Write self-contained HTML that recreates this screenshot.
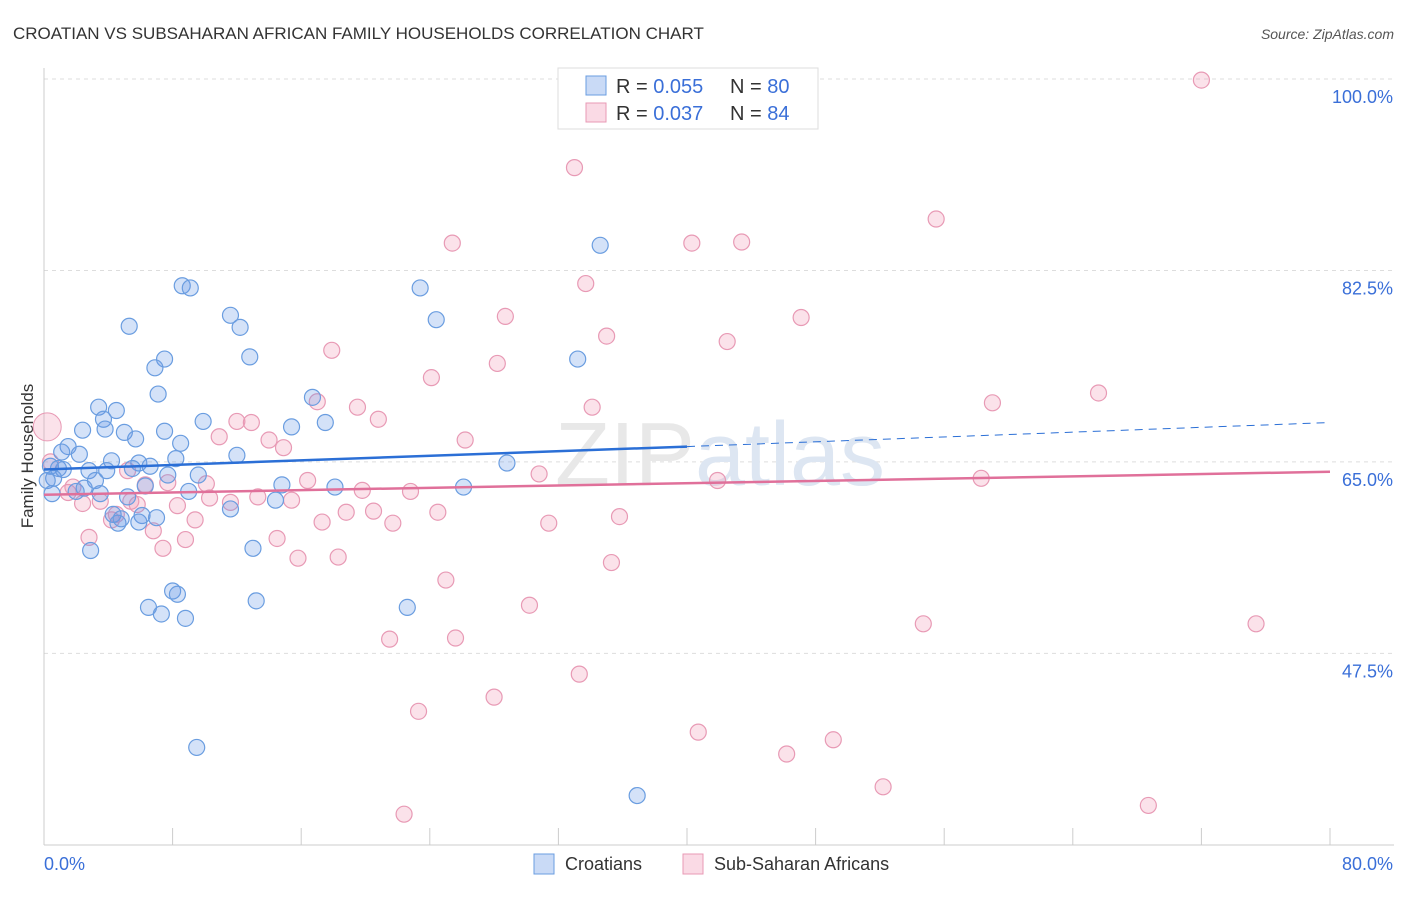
<!DOCTYPE html>
<html><head><meta charset="utf-8"><style>
body{margin:0;background:#fff;font-family:"Liberation Sans",sans-serif;}
svg text{font-family:"Liberation Sans",sans-serif;}
</style></head><body>
<svg id="chart" width="1406" height="892" xmlns="http://www.w3.org/2000/svg">
<text x="13" y="39" font-size="17" fill="#333">CROATIAN VS SUBSAHARAN AFRICAN FAMILY HOUSEHOLDS CORRELATION CHART</text>
<text x="1394" y="39" font-size="14" fill="#555" font-style="italic" text-anchor="end">Source: ZipAtlas.com</text>
<text x="33" y="456" font-size="17" fill="#333" text-anchor="middle" transform="rotate(-90 33 456)">Family Households</text>
<g id="grid"></g>
<g id="axes"></g>
<text x="720" y="485" font-size="90" fill="#e8e8e8" text-anchor="middle" font-family="Liberation Serif">ZIP<tspan fill="#dde6f2" font-family="Liberation Sans">atlas</tspan></text>
<g id="pts"></g>
<g id="trends"></g>
<g>
<rect x="558" y="68" width="260" height="61" fill="#fff" stroke="#ddd"/>
<rect x="586" y="76" width="20" height="19" fill="rgba(100,150,230,0.35)" stroke="#6a9de0"/>
<rect x="586" y="103" width="20" height="19" fill="rgba(240,150,180,0.35)" stroke="#e89ab5"/>
<text x="616" y="93" font-size="20" fill="#333">R = <tspan fill="#3a6fd8">0.055</tspan><tspan x="730">N = </tspan><tspan fill="#3a6fd8">80</tspan></text>
<text x="616" y="120" font-size="20" fill="#333">R = <tspan fill="#3a6fd8">0.037</tspan><tspan x="730">N = </tspan><tspan fill="#3a6fd8">84</tspan></text>
</g>
<g>
<rect x="534" y="854" width="20" height="20" fill="rgba(100,150,230,0.35)" stroke="#6a9de0"/>
<text x="565" y="870" font-size="18" fill="#333">Croatians</text>
<rect x="683" y="854" width="20" height="20" fill="rgba(240,150,180,0.35)" stroke="#e89ab5"/>
<text x="714" y="870" font-size="18" fill="#333">Sub-Saharan Africans</text>
</g>
</svg>
<script>
const blueX=[34.6,23.4,8.6,9.1,24.4,5.3,11.6,12.2,33.2,7.5,12.8,6.9,7.1,16.7,3.4,4.5,3.7,9.9,17.5,15.4,2.4,3.8,5.0,5.7,7.5,8.5,1.5,1.1,2.2,12.0,8.2,4.2,5.9,28.8,0.4,0.9,1.2,6.6,2.8,3.9,5.5,9.6,7.7,0.6,3.2,0.2,2.5,14.8,18.1,26.1,6.3,9.0,2.0,3.5,0.5,5.2,14.4,4.3,6.1,7.0,11.6,4.6,4.8,5.9,2.9,13.0,8.0,8.3,6.5,7.3,8.8,13.2,22.6,9.5,36.9];
const blueY=[84.8,80.9,81.1,80.9,78.0,77.4,78.4,77.3,74.4,74.4,74.6,73.6,71.2,70.9,70.0,69.7,68.9,68.7,68.6,68.2,67.9,68.0,67.7,67.1,67.8,66.7,66.4,65.9,65.7,65.6,65.3,65.1,64.9,64.9,64.6,64.4,64.3,64.6,64.2,64.2,64.4,63.8,63.8,63.5,63.3,63.3,62.6,62.9,62.7,62.7,62.8,62.3,62.3,62.1,62.1,61.8,61.5,60.2,60.1,59.9,60.7,59.4,59.8,59.5,56.9,57.1,53.2,52.9,51.7,51.1,50.7,52.3,51.7,38.9,34.5];
const pinkX=[72.0,33.0,55.5,25.4,40.3,43.4,33.7,28.7,47.1,35.0,42.5,17.9,28.2,24.1,65.6,59.0,17.0,34.1,19.5,20.8,12.0,12.9,10.9,14.0,26.2,14.9,30.8,41.9,58.3,16.4,22.8,19.8,5.2,6.3,7.7,10.1,10.3,11.6,13.3,15.4,2.4,3.5,1.5,1.8,5.4,5.8,8.3,18.8,20.5,24.5,35.8,4.2,9.4,17.3,21.7,31.4,6.8,2.8,8.8,14.5,7.4,15.8,18.3,35.3,25.0,30.2,54.7,75.4,21.5,25.6,33.3,28.0,23.3,40.7,46.2,49.1,52.2,68.7,22.4,0.4,4.5];
const pinkY=[99.9,91.9,87.2,85.0,85.0,85.1,81.3,78.3,78.2,76.5,76.0,75.2,74.0,72.7,71.3,70.4,70.5,70.0,70.0,68.9,68.7,68.6,67.3,67.0,67.0,66.3,63.9,63.3,63.5,63.3,62.3,62.4,64.2,62.9,63.1,63.0,61.7,61.3,61.8,61.5,61.2,61.4,62.2,62.7,61.4,61.1,61.0,60.4,60.5,60.4,60.0,59.7,59.7,59.5,59.4,59.4,58.7,58.1,57.9,58.0,57.1,56.2,56.3,55.8,54.2,51.9,50.2,50.2,48.8,48.9,45.6,43.5,42.2,40.3,38.3,39.6,35.3,33.6,32.8,65.0,60.2];
const yTicks=[100.0,82.5,65.0,47.5];
const blueTrend=[64.3,66.4,68.6];
const pinkTrend=[62.0,64.1];
const NS='http://www.w3.org/2000/svg';
const X=v=>44+v/80*1286, Y=v=>79+(100-v)*10.94;
function mk(t,a,p){const e=document.createElementNS(NS,t);for(const k in a)e.setAttribute(k,a[k]);p.appendChild(e);return e;}
const grid=document.getElementById('grid'),axes=document.getElementById('axes');
yTicks.forEach(v=>{
 const l=mk('line',{x1:44,x2:1394,y1:Y(v),y2:Y(v),stroke:'#ddd','stroke-dasharray':'4,4'},grid);
 
 
 const t=mk('text',{x:1393,y:Y(v)+24,'font-size':18,fill:'#3a6fd8','text-anchor':'end'},axes);
 t.textContent=v.toFixed(1)+'%';
 
 
});
mk('line',{x1:44,x2:44,y1:68,y2:845,stroke:'#ccc'},axes);
mk('line',{x1:44,x2:1394,y1:845,y2:845,stroke:'#ccc'},axes);
for(let i=0;i<=10;i++){const t=mk('line',{x1:X(i*8),x2:X(i*8),y1:828,y2:845,stroke:'#ccc'},axes);
 
 }
const a0=mk('text',{x:44,y:870,'font-size':18,fill:'#3a6fd8'},axes);a0.textContent='0.0%';


const a1=mk('text',{x:1393,y:870,'font-size':18,fill:'#3a6fd8','text-anchor':'end'},axes);a1.textContent='80.0%';


const pts=document.getElementById('pts');
pinkX.forEach((x,i)=>{const c=mk('circle',{cx:X(x),cy:Y(pinkY[i]),r:8,fill:'rgba(240,150,180,0.28)',stroke:'#e89ab5','stroke-width':1.2},pts);
 
 });
blueX.forEach((x,i)=>{const c=mk('circle',{cx:X(x),cy:Y(blueY[i]),r:8,fill:'rgba(100,150,230,0.28)',stroke:'#6a9de0','stroke-width':1.2},pts);
 
 });
const big=mk('circle',{cx:X(0.2),cy:Y(68.2),r:14,fill:'rgba(240,150,180,0.28)',stroke:'#e89ab5'},pts);


const tr=document.getElementById('trends');
const b1=mk('line',{x1:X(0),y1:Y(blueTrend[0]),x2:X(40),y2:Y(blueTrend[1]),stroke:'#2b6fd6','stroke-width':2.5},tr);


const b2=mk('line',{x1:X(40),y1:Y(blueTrend[1]),x2:X(80),y2:Y(blueTrend[2]),stroke:'#2b6fd6','stroke-width':1,'stroke-dasharray':'8,6'},tr);


const p1=mk('line',{x1:X(0),y1:Y(pinkTrend[0]),x2:X(80),y2:Y(pinkTrend[1]),stroke:'#e0709a','stroke-width':2.5},tr);


</script>
</body></html>
